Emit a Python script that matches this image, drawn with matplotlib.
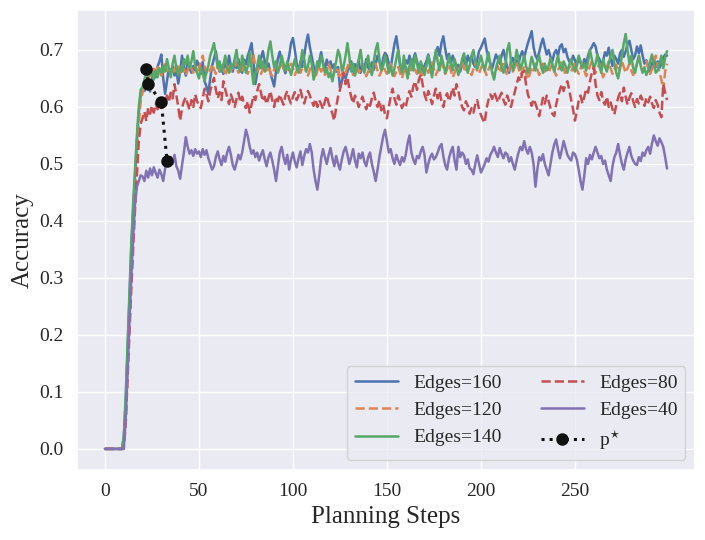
import numpy as np
import matplotlib
matplotlib.use("Agg")
import matplotlib.pyplot as plt
import seaborn as sns

# accuracy per planning step (steps 0..299)
steps = np.arange(300)

acc_160 = [
    0.0, 0.0, 0.0, 0.0, 0.0, 0.0, 0.0, 0.0, 0.0, 0.0,
    0.02, 0.08, 0.17, 0.26, 0.35, 0.42, 0.48, 0.54, 0.59, 0.62,
    0.632, 0.628, 0.635, 0.660, 0.627, 0.648, 0.665, 0.652, 0.671, 0.680,
    0.692, 0.650, 0.623, 0.645, 0.668, 0.660, 0.672, 0.655, 0.664, 0.641,
    0.662, 0.690, 0.670, 0.655, 0.681, 0.668, 0.660, 0.672, 0.664, 0.681,
    0.672, 0.658, 0.679, 0.645, 0.636, 0.623, 0.650, 0.672, 0.685, 0.698,
    0.676, 0.662, 0.672, 0.658, 0.680, 0.668, 0.690, 0.671, 0.662, 0.680,
    0.668, 0.684, 0.671, 0.660, 0.683, 0.675, 0.690, 0.700, 0.712, 0.680,
    0.640, 0.660, 0.672, 0.686, 0.698, 0.680, 0.665, 0.676, 0.660, 0.648,
    0.636, 0.662, 0.685, 0.697, 0.676, 0.668, 0.659, 0.674, 0.690, 0.712,
    0.721, 0.700, 0.676, 0.662, 0.680, 0.670, 0.690, 0.712, 0.727, 0.705,
    0.688, 0.672, 0.660, 0.668, 0.681, 0.696, 0.678, 0.665, 0.683, 0.672,
    0.680, 0.668, 0.675, 0.662, 0.670, 0.634, 0.645, 0.657, 0.650, 0.662,
    0.670, 0.680, 0.662, 0.675, 0.668, 0.681, 0.660, 0.672, 0.666, 0.684,
    0.670, 0.662, 0.678, 0.665, 0.675, 0.690, 0.680, 0.666, 0.686, 0.695,
    0.690, 0.676, 0.668, 0.690, 0.710, 0.724, 0.700, 0.672, 0.662, 0.670,
    0.682, 0.676, 0.690, 0.672, 0.683, 0.694, 0.680, 0.668, 0.676, 0.662,
    0.673, 0.680, 0.692, 0.676, 0.668, 0.680, 0.695, 0.705, 0.690, 0.712,
    0.724, 0.702, 0.684, 0.693, 0.676, 0.690, 0.680, 0.668, 0.674, 0.662,
    0.676, 0.684, 0.672, 0.690, 0.680, 0.688, 0.676, 0.670, 0.682, 0.698,
    0.704, 0.712, 0.720, 0.700, 0.686, 0.676, 0.668, 0.680, 0.692, 0.684,
    0.676, 0.690, 0.700, 0.684, 0.670, 0.660, 0.680, 0.686, 0.672, 0.682,
    0.676, 0.690, 0.698, 0.686, 0.700, 0.712, 0.722, 0.733, 0.705, 0.690,
    0.684, 0.696, 0.710, 0.720, 0.705, 0.692, 0.700, 0.688, 0.680, 0.694,
    0.700, 0.690, 0.706, 0.710, 0.696, 0.702, 0.688, 0.680, 0.676, 0.690,
    0.682, 0.672, 0.686, 0.678, 0.670, 0.684, 0.676, 0.690, 0.700, 0.705,
    0.712, 0.706, 0.690, 0.684, 0.676, 0.680, 0.696, 0.690, 0.704, 0.684,
    0.672, 0.690, 0.684, 0.676, 0.694, 0.700, 0.688, 0.698, 0.710, 0.716,
    0.700, 0.684, 0.690, 0.706, 0.694, 0.708, 0.690, 0.676, 0.682, 0.670,
    0.662, 0.676, 0.684, 0.670, 0.680, 0.668, 0.676, 0.686, 0.692, 0.690,
]

acc_120 = [
    0.0, 0.0, 0.0, 0.0, 0.0, 0.0, 0.0, 0.0, 0.0, 0.0,
    0.01, 0.06, 0.15, 0.24, 0.33, 0.40, 0.46, 0.52, 0.57, 0.61,
    0.625, 0.638, 0.650, 0.642, 0.660, 0.652, 0.667, 0.658, 0.670, 0.662,
    0.655, 0.668, 0.675, 0.660, 0.665, 0.658, 0.670, 0.662, 0.676, 0.668,
    0.660, 0.672, 0.666, 0.655, 0.664, 0.676, 0.668, 0.660, 0.672, 0.658,
    0.668, 0.680, 0.690, 0.672, 0.660, 0.668, 0.662, 0.675, 0.666, 0.658,
    0.670, 0.664, 0.676, 0.668, 0.655, 0.666, 0.674, 0.662, 0.670, 0.682,
    0.668, 0.660, 0.672, 0.664, 0.676, 0.666, 0.658, 0.670, 0.680, 0.692,
    0.670, 0.662, 0.668, 0.658, 0.666, 0.676, 0.664, 0.672, 0.660, 0.654,
    0.666, 0.674, 0.662, 0.670, 0.680, 0.668, 0.660, 0.671, 0.664, 0.676,
    0.668, 0.656, 0.664, 0.672, 0.660, 0.668, 0.676, 0.662, 0.655, 0.666,
    0.674, 0.660, 0.652, 0.664, 0.672, 0.662, 0.668, 0.656, 0.664, 0.676,
    0.666, 0.652, 0.660, 0.670, 0.662, 0.650, 0.658, 0.668, 0.660, 0.670,
    0.682, 0.668, 0.656, 0.664, 0.672, 0.660, 0.666, 0.676, 0.664, 0.654,
    0.662, 0.670, 0.660, 0.668, 0.676, 0.664, 0.655, 0.662, 0.672, 0.664,
    0.658, 0.668, 0.676, 0.664, 0.654, 0.662, 0.670, 0.660, 0.650, 0.662,
    0.672, 0.664, 0.656, 0.668, 0.676, 0.665, 0.658, 0.670, 0.662, 0.652,
    0.664, 0.672, 0.660, 0.668, 0.678, 0.666, 0.656, 0.664, 0.672, 0.680,
    0.668, 0.658, 0.666, 0.675, 0.664, 0.652, 0.660, 0.670, 0.662, 0.672,
    0.680, 0.668, 0.660, 0.672, 0.664, 0.656, 0.666, 0.676, 0.664, 0.658,
    0.668, 0.676, 0.664, 0.656, 0.666, 0.674, 0.662, 0.652, 0.664, 0.672,
    0.660, 0.668, 0.678, 0.664, 0.656, 0.666, 0.674, 0.662, 0.670, 0.680,
    0.668, 0.656, 0.662, 0.672, 0.660, 0.648, 0.658, 0.670, 0.664, 0.676,
    0.666, 0.656, 0.668, 0.676, 0.662, 0.670, 0.660, 0.668, 0.676, 0.664,
    0.655, 0.664, 0.672, 0.680, 0.668, 0.656, 0.664, 0.672, 0.662, 0.670,
    0.678, 0.666, 0.658, 0.668, 0.676, 0.664, 0.654, 0.662, 0.672, 0.680,
    0.670, 0.660, 0.668, 0.676, 0.664, 0.652, 0.662, 0.670, 0.680, 0.668,
    0.658, 0.666, 0.674, 0.662, 0.670, 0.682, 0.670, 0.660, 0.668, 0.676,
    0.664, 0.656, 0.666, 0.676, 0.690, 0.674, 0.662, 0.670, 0.680, 0.668,
    0.658, 0.666, 0.676, 0.690, 0.672, 0.660, 0.648, 0.630, 0.662, 0.676,
]

acc_140 = [
    0.0, 0.0, 0.0, 0.0, 0.0, 0.0, 0.0, 0.0, 0.0, 0.0,
    0.02, 0.09, 0.18, 0.27, 0.36, 0.43, 0.49, 0.55, 0.60, 0.63,
    0.635, 0.648, 0.662, 0.672, 0.655, 0.660, 0.648, 0.664, 0.652, 0.668,
    0.660, 0.672, 0.662, 0.684, 0.668, 0.652, 0.676, 0.690, 0.668, 0.655,
    0.670, 0.662, 0.684, 0.675, 0.690, 0.668, 0.680, 0.698, 0.672, 0.660,
    0.650, 0.668, 0.660, 0.645, 0.662, 0.672, 0.690, 0.700, 0.712, 0.690,
    0.668, 0.680, 0.662, 0.674, 0.690, 0.668, 0.660, 0.676, 0.668, 0.684,
    0.700, 0.672, 0.662, 0.690, 0.676, 0.660, 0.672, 0.695, 0.668, 0.640,
    0.658, 0.672, 0.690, 0.668, 0.680, 0.662, 0.676, 0.700, 0.715, 0.690,
    0.670, 0.680, 0.660, 0.672, 0.690, 0.676, 0.664, 0.680, 0.668, 0.656,
    0.670, 0.684, 0.668, 0.660, 0.676, 0.700, 0.684, 0.662, 0.672, 0.690,
    0.676, 0.648, 0.660, 0.680, 0.670, 0.690, 0.676, 0.660, 0.668, 0.652,
    0.660, 0.645, 0.664, 0.680, 0.700, 0.690, 0.664, 0.672, 0.690, 0.712,
    0.688, 0.662, 0.676, 0.655, 0.668, 0.684, 0.700, 0.672, 0.660, 0.676,
    0.690, 0.668, 0.656, 0.680, 0.700, 0.712, 0.684, 0.664, 0.672, 0.690,
    0.676, 0.660, 0.672, 0.655, 0.668, 0.684, 0.700, 0.676, 0.660, 0.690,
    0.668, 0.650, 0.672, 0.684, 0.664, 0.690, 0.676, 0.660, 0.680, 0.668,
    0.656, 0.672, 0.690, 0.668, 0.652, 0.676, 0.700, 0.680, 0.664, 0.690,
    0.676, 0.660, 0.672, 0.690, 0.676, 0.664, 0.684, 0.670, 0.656, 0.668,
    0.684, 0.694, 0.676, 0.660, 0.672, 0.690, 0.700, 0.680, 0.666, 0.676,
    0.690, 0.676, 0.664, 0.680, 0.696, 0.676, 0.660, 0.648, 0.668, 0.680,
    0.690, 0.668, 0.660, 0.674, 0.700, 0.712, 0.680, 0.664, 0.676, 0.700,
    0.684, 0.666, 0.676, 0.690, 0.672, 0.660, 0.670, 0.688, 0.676, 0.664,
    0.680, 0.690, 0.672, 0.660, 0.676, 0.664, 0.672, 0.686, 0.674, 0.662,
    0.676, 0.690, 0.672, 0.664, 0.680, 0.672, 0.660, 0.674, 0.684, 0.670,
    0.662, 0.676, 0.690, 0.680, 0.668, 0.676, 0.664, 0.680, 0.700, 0.684,
    0.668, 0.676, 0.692, 0.672, 0.660, 0.684, 0.670, 0.662, 0.676, 0.690,
    0.700, 0.676, 0.660, 0.650, 0.668, 0.690, 0.712, 0.728, 0.700, 0.676,
    0.690, 0.668, 0.660, 0.676, 0.690, 0.672, 0.660, 0.668, 0.656, 0.664,
    0.680, 0.692, 0.676, 0.660, 0.664, 0.676, 0.690, 0.668, 0.686, 0.698,
]

acc_80 = [
    0.0, 0.0, 0.0, 0.0, 0.0, 0.0, 0.0, 0.0, 0.0, 0.0,
    0.0, 0.04, 0.12, 0.20, 0.28, 0.35, 0.42, 0.48, 0.54, 0.57,
    0.580, 0.592, 0.575, 0.598, 0.588, 0.602, 0.590, 0.606, 0.596, 0.610,
    0.598, 0.612, 0.604, 0.620, 0.608, 0.625, 0.615, 0.640, 0.620, 0.600,
    0.576, 0.598, 0.610, 0.617, 0.605, 0.595, 0.612, 0.600, 0.622, 0.610,
    0.604, 0.598, 0.615, 0.632, 0.622, 0.610, 0.628, 0.640, 0.651, 0.630,
    0.615, 0.626, 0.612, 0.645, 0.630, 0.618, 0.605, 0.622, 0.612, 0.600,
    0.614, 0.625, 0.608, 0.618, 0.605, 0.598, 0.610, 0.590, 0.604, 0.620,
    0.612, 0.628, 0.640, 0.625, 0.610, 0.618, 0.605, 0.616, 0.628, 0.612,
    0.600, 0.618, 0.610, 0.622, 0.612, 0.604, 0.620, 0.628, 0.614, 0.606,
    0.618, 0.626, 0.612, 0.620, 0.630, 0.616, 0.606, 0.618, 0.628, 0.620,
    0.610, 0.602, 0.614, 0.600, 0.612, 0.605, 0.596, 0.610, 0.620, 0.606,
    0.598, 0.588, 0.576, 0.600, 0.618, 0.630, 0.645, 0.660, 0.640, 0.652,
    0.632, 0.618, 0.606, 0.620, 0.612, 0.600, 0.610, 0.618, 0.605, 0.596,
    0.608, 0.602, 0.615, 0.625, 0.610, 0.600, 0.612, 0.594, 0.604, 0.586,
    0.580, 0.600, 0.618, 0.632, 0.615, 0.604, 0.620, 0.610, 0.598, 0.606,
    0.600, 0.615, 0.628, 0.618, 0.636, 0.645, 0.630, 0.648, 0.657, 0.640,
    0.622, 0.612, 0.628, 0.618, 0.605, 0.620, 0.632, 0.615, 0.628, 0.610,
    0.600, 0.616, 0.624, 0.610, 0.620, 0.634, 0.620, 0.640, 0.628, 0.612,
    0.600, 0.594, 0.610, 0.602, 0.588, 0.598, 0.590, 0.604, 0.612, 0.596,
    0.586, 0.578, 0.572, 0.598, 0.612, 0.622, 0.614, 0.626, 0.618, 0.608,
    0.618, 0.625, 0.612, 0.604, 0.620, 0.610, 0.600, 0.614, 0.626, 0.640,
    0.652, 0.645, 0.660, 0.663, 0.640, 0.622, 0.612, 0.602, 0.614, 0.606,
    0.596, 0.584, 0.600, 0.616, 0.606, 0.620, 0.610, 0.598, 0.588, 0.584,
    0.604, 0.618, 0.630, 0.640, 0.628, 0.640, 0.645, 0.630, 0.612, 0.596,
    0.576, 0.592, 0.610, 0.620, 0.606, 0.618, 0.632, 0.625, 0.645, 0.660,
    0.669, 0.640, 0.620, 0.612, 0.626, 0.610, 0.604, 0.618, 0.600, 0.608,
    0.596, 0.587, 0.604, 0.616, 0.625, 0.610, 0.634, 0.618, 0.604, 0.616,
    0.624, 0.610, 0.600, 0.614, 0.606, 0.620, 0.612, 0.602, 0.616, 0.608,
    0.618, 0.606, 0.598, 0.612, 0.604, 0.590, 0.582, 0.640, 0.625, 0.612,
]

acc_40 = [
    0.0, 0.0, 0.0, 0.0, 0.0, 0.0, 0.0, 0.0, 0.0, 0.0,
    0.0, 0.05, 0.13, 0.22, 0.30, 0.37, 0.43, 0.46, 0.47, 0.48,
    0.478, 0.470, 0.488, 0.476, 0.492, 0.480, 0.494, 0.484, 0.476, 0.490,
    0.482, 0.470, 0.492, 0.507, 0.498, 0.512, 0.500, 0.516, 0.496, 0.488,
    0.474, 0.498, 0.520, 0.547, 0.530, 0.518, 0.524, 0.514, 0.526, 0.518,
    0.522, 0.512, 0.526, 0.516, 0.524, 0.510, 0.500, 0.490, 0.496, 0.512,
    0.522, 0.508, 0.498, 0.514, 0.504, 0.520, 0.530, 0.516, 0.498, 0.490,
    0.502, 0.516, 0.508, 0.520, 0.540, 0.560, 0.548, 0.530, 0.518, 0.524,
    0.512, 0.520, 0.506, 0.516, 0.524, 0.508, 0.496, 0.512, 0.520, 0.506,
    0.490, 0.470, 0.496, 0.520, 0.530, 0.512, 0.500, 0.516, 0.490, 0.508,
    0.520, 0.504, 0.494, 0.510, 0.522, 0.498, 0.514, 0.526, 0.520, 0.535,
    0.520, 0.490, 0.470, 0.455, 0.480, 0.510, 0.526, 0.512, 0.500, 0.516,
    0.528, 0.510, 0.496, 0.514, 0.500, 0.490, 0.508, 0.522, 0.530, 0.516,
    0.500, 0.512, 0.526, 0.506, 0.494, 0.518, 0.510, 0.520, 0.504, 0.496,
    0.512, 0.520, 0.500, 0.486, 0.470, 0.490, 0.512, 0.530, 0.548, 0.560,
    0.540, 0.520, 0.526, 0.510, 0.500, 0.516, 0.506, 0.498, 0.512, 0.504,
    0.516, 0.536, 0.550, 0.520, 0.508, 0.500, 0.514, 0.510, 0.522, 0.530,
    0.516, 0.485, 0.500, 0.512, 0.518, 0.508, 0.512, 0.520, 0.530, 0.535,
    0.514, 0.498, 0.490, 0.510, 0.522, 0.530, 0.506, 0.490, 0.530, 0.512,
    0.520, 0.515, 0.500, 0.508, 0.492, 0.490, 0.482, 0.500, 0.515, 0.500,
    0.485, 0.492, 0.500, 0.510, 0.504, 0.516, 0.522, 0.530, 0.520, 0.512,
    0.528, 0.518, 0.510, 0.520, 0.517, 0.504, 0.512, 0.500, 0.490, 0.506,
    0.520, 0.530, 0.524, 0.540, 0.526, 0.518, 0.530, 0.520, 0.500, 0.460,
    0.490, 0.512, 0.506, 0.517, 0.500, 0.490, 0.480, 0.500, 0.520, 0.534,
    0.543, 0.525, 0.510, 0.524, 0.540, 0.528, 0.516, 0.510, 0.506, 0.520,
    0.517, 0.508, 0.490, 0.470, 0.455, 0.480, 0.510, 0.500, 0.516, 0.508,
    0.520, 0.530, 0.520, 0.510, 0.514, 0.500, 0.506, 0.490, 0.480, 0.470,
    0.496, 0.512, 0.520, 0.535, 0.516, 0.500, 0.490, 0.508, 0.520, 0.530,
    0.514, 0.506, 0.500, 0.498, 0.512, 0.505, 0.520, 0.514, 0.524, 0.530,
    0.518, 0.536, 0.550, 0.540, 0.532, 0.545, 0.538, 0.530, 0.512, 0.492,
]

# p* points (peak of each curve)
pstar_x = [22, 23, 30, 33]
pstar_y = [0.666, 0.641, 0.608, 0.506]

labels = ["Edges=160", "Edges=120", "Edges=140", "Edges=80", "Edges=40"]
series = [acc_160, acc_120, acc_140, acc_80, acc_40]
styles = ["-", "--", "-", "--", "-"]

sns.set_theme(style="darkgrid")
# serif font has to be set after seaborn theme
plt.rcParams["font.family"] = ["Liberation Serif", "DejaVu Serif"]
plt.rcParams["mathtext.fontset"] = "stix"

colors = sns.color_palette("deep")

fig = plt.figure(figsize=(7.05, 5.4), dpi=100)
ax = fig.add_subplot(111)
fig.subplots_adjust(left=0.109, right=0.986, top=0.981, bottom=0.130)

for vals, lab, ls, c in zip(series, labels, styles, colors):
    ax.plot(steps, vals, ls, color=c, lw=1.8, label=lab)

ax.plot(pstar_x, pstar_y, ":", color="#111111", lw=2.2, marker="o",
        markersize=8, label="p$^{\\star}$")

ax.set_xlabel("Planning Steps", fontsize=18)
ax.set_ylabel("Accuracy", fontsize=18)
ax.set_xticks([0, 50, 100, 150, 200, 250])
ax.tick_params(labelsize=14)

ax.legend(loc="lower right", ncol=2, fontsize=14, handlelength=2.2,
          columnspacing=2.0)

fig.savefig("out.png", dpi=100)
